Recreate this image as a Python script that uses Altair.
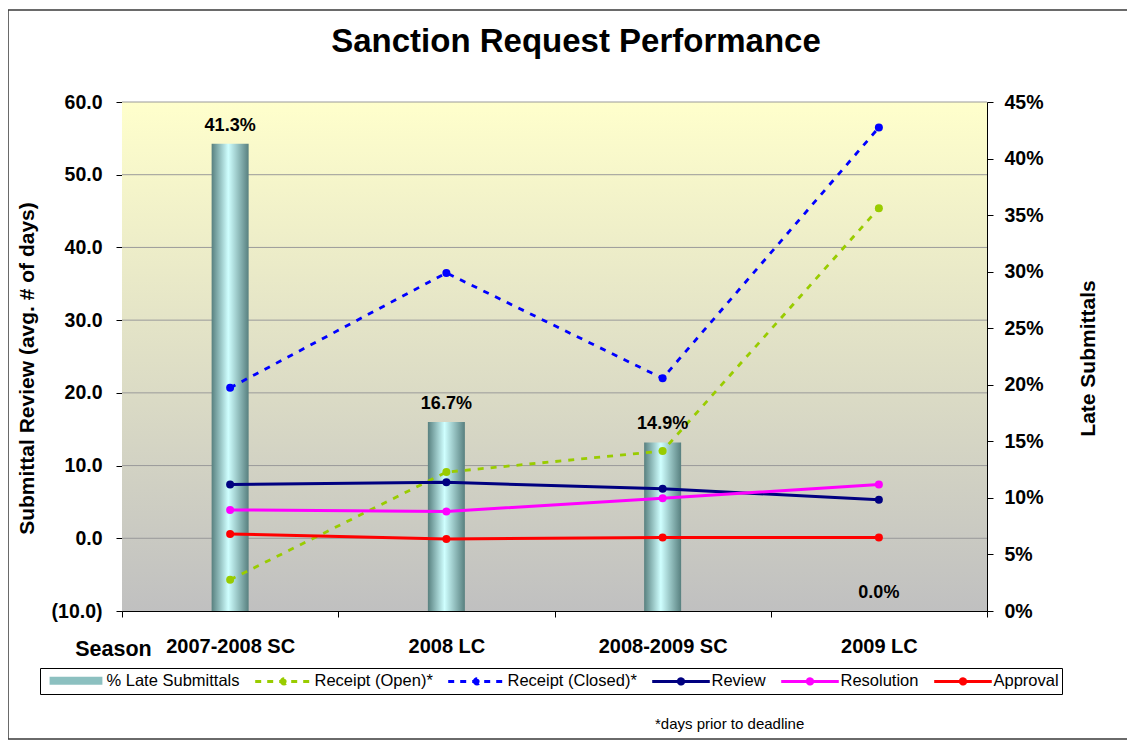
import altair as alt
import pandas as pd

FONT = "Liberation Sans"

# ---------------- data ----------------
seasons = ["2007-2008 SC", "2008 LC", "2008-2009 SC", "2009 LC"]
late_pct = [0.413, 0.167, 0.149, 0.0]
receipt_open = [-5.7, 9.1, 12.0, 45.4]
receipt_closed = [20.7, 36.5, 22.0, 56.5]
review = [7.4, 7.7, 6.8, 5.3]
resolution = [3.9, 3.7, 5.5, 7.4]
approval = [0.6, -0.1, 0.1, 0.1]

series_names = ["% Late Submittals", "Receipt (Open)*", "Receipt (Closed)*",
                "Review", "Resolution", "Approval"]
series_colors = ["#8cc0c0", "#99CC00", "#0000FF", "#000080", "#FF00FF", "#FF0000"]
dashed_series = ["Receipt (Open)*", "Receipt (Closed)*"]
solid_series = ["Review", "Resolution", "Approval"]

left_ticks = [-10, 0, 10, 20, 30, 40, 50, 60]
grid_values = [0, 10, 20, 30, 40, 50, 60]
right_ticks = [0, 0.05, 0.10, 0.15, 0.20, 0.25, 0.30, 0.35, 0.40, 0.45]

title_text = "Sanction Request Performance"
footnote_text = "*days prior to deadline"

W, H = 865, 509

# ---------------- tables ----------------
bars_df = pd.DataFrame({"season": seasons, "pct": late_pct})
line_series = [receipt_open, receipt_closed, review, resolution, approval]
rows = []
for name, vals in zip(series_names[1:], line_series):
    for s, v in zip(seasons, vals):
        rows.append({"season": s, "series": name, "value": v})
lines_df = pd.DataFrame(rows)
grid_df = pd.DataFrame({"value": grid_values})
legend_df = pd.DataFrame({"series": series_names})

# ---------------- styles ----------------
bar_gradient = alt.Gradient(
    gradient="linear",
    stops=[alt.GradientStop(color="#58807f", offset=0),
           alt.GradientStop(color="#cfffff", offset=0.45),
           alt.GradientStop(color="#58807f", offset=1)],
    x1=0, x2=1, y1=0, y2=0,
)
bg_gradient = alt.Gradient(
    gradient="linear",
    stops=[alt.GradientStop(color="#FFFFCC", offset=0),
           alt.GradientStop(color="#C0C0C0", offset=1)],
    x1=0, x2=0, y1=0, y2=1,
)

x_enc = alt.X(
    "season:N", sort=seasons,
    scale=alt.Scale(domain=seasons, paddingInner=0, paddingOuter=0),
    axis=alt.Axis(
        title="Season", labelAngle=0, labelFontSize=20, labelFontWeight="bold",
        labelColor="black", labelFont=FONT, labelPadding=19, labelLimit=0,
        tickBand="extent", tickSize=6, tickColor="black", domainColor="black",
        grid=False, titleFontSize=21.5, titleFontWeight="bold", titleFont=FONT,
        titleColor="black", titleX=-9, titleY=44, titleAlign="center",
        titleBaseline="alphabetic",
    ),
)

left_scale = alt.Scale(domain=[-10, 60], nice=False, zero=False)
right_scale = alt.Scale(domain=[0, 0.45], nice=False)
# line colours (only the five line series)
line_color_scale = alt.Scale(domain=series_names[1:], range=series_colors[1:])

left_axis = alt.Axis(
    orient="left", values=left_ticks,
    labelExpr="datum.value < 0 ? '(' + format(-datum.value, '.1f') + ')' : format(datum.value, '.1f')",
    labelFontSize=19.5, labelFontWeight="bold", labelFont=FONT, labelColor="black",
    labelPadding=14, tickSize=6, tickColor="black", domainColor="black", grid=False,
    title="Submittal Review (avg. # of days)", titleFontSize=21, titleFontWeight="bold",
    titleFont=FONT, titleColor="black", titleAngle=270, titleX=-95, titleY=266,
    titleAlign="center", titleBaseline="middle",
)
right_axis = alt.Axis(
    orient="right", values=right_ticks, format=".0%",
    labelFontSize=19.5, labelFontWeight="bold", labelFont=FONT, labelColor="black",
    labelPadding=11, tickSize=6, tickColor="black", domainColor="black", grid=False,
    title="Late Submittals", titleFontSize=21, titleFontWeight="bold",
    titleFont=FONT, titleColor="black", titleAngle=270, titleX=101, titleY=256,
    titleAlign="center", titleBaseline="middle",
)

# legend symbol glyphs (units scaled by sqrt(symbolSize)/2 = 8 px)
LINE_PATH = "M-3.6,0L3.6,0M-0.33,0A0.33,0.33,0,1,0,0.33,0A0.33,0.33,0,1,0,-0.33,0Z"
RECT_PATH = "M-3.3,-0.5L3.3,-0.5L3.3,0.5L-3.3,0.5Z"

legend = alt.Legend(
    title=None, orient="none", legendX=-82, legendY=566, direction="horizontal",
    columns=6, symbolSize=256, symbolStrokeWidth=3, symbolOpacity=1,
    symbolFillColor="#8cc0c0", symbolOffset=23.5,
    labelFontSize=16.5, labelFont=FONT,
    labelColor="black", labelOffset=21, columnPadding=9, padding=3,
    strokeColor="black", fillColor="white", labelLimit=0,
)

# ---------------- layers ----------------
one = alt.Data(values=[{}])

border = alt.Chart(one).mark_rect(
    fillOpacity=0, stroke="#3a3a3a", strokeWidth=1.5
).encode(
    x=alt.value(-114), x2=alt.value(1006), y=alt.value(-92), y2=alt.value(637)
)

background = alt.Chart(one).mark_rect(fill=bg_gradient).encode(
    x=alt.value(0), x2=alt.value(W), y=alt.value(0), y2=alt.value(H)
)

grid = alt.Chart(grid_df).mark_rule(color="#9a9a9a", strokeWidth=1).encode(
    y=alt.Y("value:Q", scale=left_scale, axis=None)
)

bars = alt.Chart(bars_df).mark_bar(size=37, fill=bar_gradient).encode(
    x=x_enc,
    y=alt.Y("pct:Q", scale=right_scale, axis=right_axis),
)

bar_labels = alt.Chart(bars_df).mark_text(
    dy=-13, baseline="alphabetic", align="center", fontSize=18,
    fontWeight="bold", font=FONT, color="black"
).encode(
    x=x_enc,
    y=alt.Y("pct:Q", scale=right_scale, axis=None),
    text=alt.Text("pct:Q", format=".1%"),
)

solid_lines = alt.Chart(lines_df).transform_filter(
    alt.FieldOneOfPredicate(field="series", oneOf=solid_series)
).mark_line(strokeWidth=3).encode(
    x=x_enc,
    y=alt.Y("value:Q", scale=left_scale, axis=left_axis),
    color=alt.Color("series:N", scale=line_color_scale, legend=None),
)

dashed_lines = alt.Chart(lines_df).transform_filter(
    alt.FieldOneOfPredicate(field="series", oneOf=dashed_series)
).mark_line(strokeWidth=2.8, strokeDash=[6, 7]).encode(
    x=x_enc,
    y=alt.Y("value:Q", scale=left_scale, axis=None),
    color=alt.Color("series:N", scale=line_color_scale, legend=None),
)

points = alt.Chart(lines_df).mark_circle(size=64, opacity=1).encode(
    x=x_enc,
    y=alt.Y("value:Q", scale=left_scale, axis=None),
    color=alt.Color("series:N", scale=line_color_scale, legend=None),
)

# legend-only layer (invisible marks, visible legend)
legend_layer = alt.Chart(legend_df).mark_point(
    opacity=0, filled=True, strokeWidth=3
).encode(
    fill=alt.Fill("series:N", scale=alt.Scale(domain=series_names, range=series_colors),
                  legend=legend),
    stroke=alt.Stroke("series:N",
                      scale=alt.Scale(domain=series_names,
                                      range=["transparent"] + series_colors[1:]),
                      legend=legend),
    shape=alt.Shape("series:N",
                    scale=alt.Scale(domain=series_names,
                                    range=[RECT_PATH] + [LINE_PATH] * 5),
                    legend=legend),
    strokeDash=alt.StrokeDash("series:N",
                              scale=alt.Scale(domain=series_names,
                                              range=[[1, 0], [6, 6], [6, 6], [1, 0], [1, 0], [1, 0]]),
                              legend=legend),
)

title = alt.Chart(one).mark_text(
    text=title_text, fontSize=33, fontWeight="bold", font=FONT, color="black",
    align="center", baseline="alphabetic"
).encode(x=alt.value(454), y=alt.value(-50))

footnote = alt.Chart(one).mark_text(
    text=footnote_text, fontSize=15, font=FONT, color="black",
    align="left", baseline="alphabetic"
).encode(x=alt.value(533), y=alt.value(627))

chart = alt.layer(
    border, background, grid, bars, dashed_lines, solid_lines, points,
    bar_labels, legend_layer, title, footnote
).resolve_scale(
    y="independent"
).properties(
    width=W, height=H,
    autosize=alt.AutoSizeParams(type="none"),
    padding={"left": 114, "top": 94, "right": 140, "bottom": 130},
).configure_view(
    stroke="transparent"
).configure(
    font=FONT, background="white"
)

chart.save("out.html", embed_options={"renderer": "svg", "actions": False})
